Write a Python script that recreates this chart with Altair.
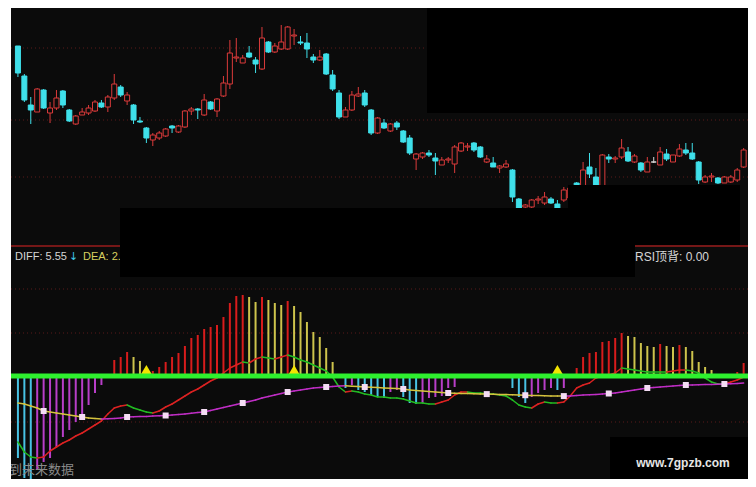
import altair as alt
import pandas as pd

# ---------------- data ----------------
OPEN = [17.70, 16.20, 14.75, 14.40, 15.50, 14.35, 14.60, 15.45, 14.50, 13.80,
        14.25, 14.35, 14.45, 14.85, 14.65, 15.10, 15.65, 14.95, 14.75, 13.95,
        13.60, 13.00, 13.10, 13.20, 13.70, 13.40, 13.65, 14.45, 14.55, 14.25,
        14.90, 14.45, 15.20, 15.80, 17.10, 16.85, 17.35, 17.00, 16.55, 17.90,
        17.40, 17.55, 17.55, 18.20, 17.90, 17.85, 17.15, 17.00, 17.30, 16.25,
        15.35, 14.15, 14.50, 15.20, 15.35, 14.50, 13.35, 13.85, 13.45, 13.85,
        13.45, 13.10, 12.05, 12.15, 12.35, 12.10, 11.75, 12.00, 11.80, 12.45,
        12.65, 12.85, 12.65, 11.90, 11.85, 11.60, 11.65, 11.50, 10.05, 9.65,
        9.65, 10.00, 9.85, 10.05, 9.80, 10.00, 10.10, 10.85, 10.50, 11.65,
        11.15, 10.25, 12.15, 12.05, 12.15, 12.40, 11.90, 11.85, 11.40, 11.90,
        11.75, 12.30, 11.90, 12.20, 12.50, 12.35, 11.90, 10.90, 11.15, 11.10,
        10.85, 10.90, 11.00, 11.65]
HIGH = [17.70, 16.30, 15.15, 15.60, 15.55, 14.90, 15.50, 15.50, 14.55, 14.25,
        14.60, 14.75, 15.00, 15.00, 15.25, 16.30, 15.75, 15.40, 14.80, 14.15,
        13.65, 13.35, 13.45, 13.60, 13.75, 13.75, 14.50, 14.65, 14.60, 15.30,
        14.95, 15.10, 16.20, 18.00, 18.10, 17.25, 17.70, 17.15, 18.65, 17.95,
        17.85, 18.75, 18.70, 18.55, 18.20, 18.35, 17.30, 17.50, 17.35, 16.50,
        15.50, 14.65, 15.45, 15.65, 15.50, 14.55, 14.15, 14.05, 13.85, 13.95,
        13.50, 13.25, 12.35, 12.40, 12.50, 12.35, 12.15, 12.15, 12.75, 12.90,
        12.85, 12.90, 12.70, 12.25, 12.15, 11.75, 12.00, 11.55, 10.10, 9.80,
        10.05, 10.20, 10.40, 10.15, 10.00, 10.65, 10.70, 10.90, 11.90, 12.35,
        11.60, 12.30, 12.30, 12.20, 13.05, 12.65, 12.30, 11.90, 12.15, 12.15,
        12.65, 12.55, 12.25, 12.80, 12.85, 12.85, 11.95, 11.25, 11.35, 11.15,
        11.20, 11.25, 11.60, 12.60]
LOW = [16.15, 14.90, 13.80, 14.40, 14.55, 13.85, 14.50, 14.60, 13.90, 13.75,
       14.25, 14.25, 14.40, 14.60, 14.40, 15.00, 15.15, 14.75, 13.80, 13.85,
       12.85, 12.70, 13.00, 13.15, 13.35, 13.35, 13.60, 14.25, 14.05, 14.20,
       14.50, 14.15, 15.15, 15.55, 16.90, 16.85, 17.10, 16.35, 16.50, 17.35,
       17.35, 17.50, 17.50, 17.75, 17.75, 17.10, 16.85, 16.95, 16.25, 15.45,
       14.05, 14.15, 14.45, 15.15, 14.65, 13.25, 13.30, 13.55, 13.40, 13.50,
       12.85, 12.25, 11.50, 12.05, 12.15, 11.25, 11.75, 11.85, 11.35, 12.40,
       12.45, 12.40, 12.10, 11.85, 11.65, 11.35, 11.60, 9.90, 9.55, 9.60,
       9.60, 9.80, 9.75, 9.80, 9.55, 9.90, 10.00, 10.40, 10.25, 11.10,
       10.25, 10.10, 11.85, 11.85, 12.05, 11.90, 11.85, 11.40, 11.40, 11.85,
       11.75, 11.95, 11.90, 12.15, 12.25, 12.00, 10.80, 10.85, 10.90, 10.80,
       10.85, 10.85, 10.90, 11.60]
CLOSE = [16.35, 15.00, 14.50, 15.55, 14.60, 14.60, 15.10, 14.75, 13.95, 14.20,
         14.40, 14.60, 14.90, 14.65, 15.15, 15.80, 15.25, 15.25, 14.00, 13.90,
         13.10, 13.25, 13.35, 13.55, 13.60, 13.70, 14.45, 14.55, 14.50, 15.00,
         14.55, 15.05, 15.85, 17.35, 17.15, 17.10, 17.15, 16.80, 18.10, 17.40,
         17.70, 17.90, 18.65, 18.25, 17.85, 17.55, 17.00, 17.15, 16.30, 15.55,
         14.15, 14.50, 15.25, 15.30, 14.75, 13.35, 14.10, 13.60, 13.80, 13.65,
         12.90, 12.35, 12.30, 12.35, 12.25, 11.95, 12.00, 12.05, 12.65, 12.85,
         12.70, 12.50, 12.15, 12.05, 11.65, 11.70, 11.80, 10.15, 9.60, 9.75,
         10.00, 10.05, 10.15, 9.85, 9.60, 10.50, 10.60, 10.50, 11.50, 11.30,
         10.50, 12.25, 12.05, 12.10, 12.60, 11.95, 12.20, 11.50, 11.90, 11.90,
         12.40, 12.05, 12.25, 12.55, 12.35, 12.05, 11.00, 11.15, 11.20, 10.85,
         11.15, 11.15, 11.50, 12.50]

HIST = [-8.2, -10.2, -11.5, -9.4, -8.6, -8.2, -7.1, -6.1, -5.4, -4.6,
        -3.9, -2.9, -1.7, -0.9, 0.0, 1.6, 1.9, 2.4, 1.9, 1.5,
        0.3, 0.5, 0.9, 1.4, 1.9, 2.3, 3.0, 3.8, 4.1, 4.7,
        4.9, 5.1, 5.9, 7.3, 8.0, 8.1, 7.9, 7.4, 7.9, 7.6,
        7.3, 7.1, 7.5, 7.0, 6.4, 5.4, 4.4, 3.9, 2.8, 1.4,
        0.0, -1.2, -0.9, -1.4, -1.6, -1.9, -2.1, -2.2, -1.6, -1.4,
        -2.1, -2.7, -2.8, -2.7, -2.2, -2.1, -2.0, -1.2, -1.1, 0.0,
        0.0, 0.0, 0.0, 0.0, 0.0, 0.0, 0.0, -1.2, -2.1, -2.7,
        -2.1, -1.7, -1.4, -1.2, -1.4, -1.2, 0.0, 0.8, 1.9, 2.3,
        2.4, 3.4, 3.5, 3.8, 4.3, 4.0, 3.9, 3.3, 3.0, 2.9,
        3.2, 3.0, 2.9, 3.1, 2.9, 2.5, 1.4, 0.9, 0.6, 0.0,
        0.0, 0.0, 0.4, 1.3]
DIFF = [-6.6, -7.6, -8.1, -8.2, -8.1, -7.5, -7.1, -6.7, -6.4, -6.0,
        -5.7, -5.3, -4.9, -4.5, -3.8, -3.2, -3.0, -2.9, -3.2, -3.4,
        -3.6, -3.7, -3.5, -3.1, -2.8, -2.4, -2.0, -1.6, -1.3, -0.9,
        -0.5, -0.2, 0.3, 0.8, 1.1, 1.4, 1.3, 1.7, 1.9, 1.8,
        1.7, 1.9, 2.1, 1.9, 1.6, 1.4, 1.1, 0.8, 0.5, -0.1,
        -1.1, -1.6, -1.5, -1.6, -1.8, -1.9, -2.1, -2.1, -2.2, -2.2,
        -2.3, -2.5, -2.7, -2.7, -2.8, -2.8, -2.6, -2.4, -1.9, -1.6,
        -1.6, -1.7, -1.7, -1.8, -1.8, -1.9, -2.0, -2.4, -2.9, -3.1,
        -3.2, -2.8, -2.6, -2.7, -2.7, -2.6, -2.0, -1.2, -0.9, -0.7,
        -0.2, 0.0, 0.1, 0.3, 0.8, 0.7, 0.6, 0.5, 0.4, 0.4,
        0.4, 0.4, 0.5, 0.6, 0.6, 0.5, 0.3, -0.2, -0.6, -0.8,
        -0.8, -0.6, -0.4, -0.1]
DEA = [-2.7, -2.8, -3.0, -3.2, -3.5, -3.6, -3.7, -3.8, -3.9, -4.0,
       -4.1, -4.2, -4.25, -4.3, -4.28, -4.25, -4.2, -4.1, -4.08, -4.06,
       -4.04, -4.0, -3.98, -3.95, -3.9, -3.85, -3.8, -3.72, -3.65, -3.6,
       -3.45, -3.3, -3.15, -3.0, -2.85, -2.7, -2.55, -2.4, -2.2, -2.05,
       -1.9, -1.75, -1.6, -1.5, -1.4, -1.3, -1.2, -1.15, -1.1, -1.05,
       -1.0, -0.98, -1.02, -1.05, -1.1, -1.12, -1.15, -1.2, -1.22, -1.25,
       -1.3, -1.4, -1.45, -1.5, -1.55, -1.6, -1.65, -1.7, -1.72, -1.75,
       -1.76, -1.78, -1.8, -1.81, -1.83, -1.85, -1.86, -1.88, -1.9, -1.92,
       -1.94, -1.96, -1.98, -1.99, -2.0, -2.01, -2.0, -1.95, -1.9, -1.88,
       -1.85, -1.8, -1.75, -1.7, -1.6, -1.5, -1.4, -1.3, -1.2, -1.15,
       -1.1, -1.05, -1.0, -0.95, -0.9, -0.89, -0.88, -0.86, -0.85, -0.83,
       -0.8, -0.78, -0.76, -0.7]
DEA_MARKS = [4, 10, 17, 23, 29, 35, 42, 48, 54, 60, 67, 73, 79, 85, 92, 98, 104, 110]
SIGNALS = [20, 43, 84]
PRICE_GRID = [17.6, 14.0, 11.15]
MACD_GRID = [8.7, 4.3, -4.6]

LABEL_DIFF = "DIFF: 5.55"
LABEL_DEA = "DEA: 2."
LABEL_RSI = "RSI顶背: 0.00"
LABEL_FUTURE = "到未来数据"
WATERMARK = "www.7gpzb.com"

# ---------------- styling ----------------
W, H = 740, 471
BG = "#0b0b0b"
C_UP = "#dc3b3b"
C_DN = "#3fe0ea"
C_FLAT = "#d8d8d8"
H_RED = "#d81c1c"
H_YEL = "#cdc34c"
H_CYAN = "#48c2e4"
H_MAG = "#b83ec8"
L_RED = "#dd2222"
L_GRN = "#22bb22"
D_YEL = "#d4c23e"
D_MAG = "#c02ec6"
GRID = "#5a1a1a"

xscale = alt.Scale(domain=[-0.768, 112.90], nice=False, zero=False)
pscale = alt.Scale(domain=[-3.95, 19.6], nice=False, zero=False)
mscale = alt.Scale(domain=[-10.3, 36.8], nice=False, zero=False)

n = len(OPEN)
idx = list(range(n))

cd = pd.DataFrame({"i": idx, "open": OPEN, "high": HIGH, "low": LOW, "close": CLOSE})
cd["top"] = cd[["open", "close"]].max(axis=1)
cd["bot"] = cd[["open", "close"]].min(axis=1)
cd["col"] = [C_UP if c > o else (C_DN if c < o else C_FLAT) for o, c in zip(OPEN, CLOSE)]
cd["fill"] = [BG if c > o else col for o, c, col in zip(OPEN, CLOSE, cd["col"])]

hc = []
prev = 0.0
for h in HIST:
    if h >= 0:
        hc.append(H_RED if h >= prev else H_YEL)
    else:
        hc.append(H_CYAN if h <= prev else H_MAG)
    prev = h
hd = pd.DataFrame({"i": idx, "h": HIST, "z": [0.0] * n, "c": hc})
hd = hd[hd["h"] != 0]


def segs(vals, up, down):
    rows = []
    last = up
    for k in range(len(vals) - 1):
        a, b = vals[k], vals[k + 1]
        c = up if b > a else (down if b < a else last)
        last = c
        rows.append({"i": k, "i2": k + 1, "v": a, "v2": b, "c": c})
    return pd.DataFrame(rows)


diff_df = segs(DIFF, L_RED, L_GRN)
dea_df = segs(DEA, D_MAG, D_YEL)
marks_df = pd.DataFrame({"i": DEA_MARKS, "v": [DEA[k] for k in DEA_MARKS]})
sig_df = pd.DataFrame({"i": SIGNALS, "v": [0.5] * len(SIGNALS)})
ONE = pd.DataFrame({"a": [0]})


def X(f):
    return alt.X(f, type="quantitative", scale=xscale, axis=None)


def PY(f):
    return alt.Y(f, type="quantitative", scale=pscale, axis=None)


def MY(f):
    return alt.Y(f, type="quantitative", scale=mscale, axis=None)


def box(x0, x1, y0, y1, color):
    return alt.Chart(ONE).mark_rect(color=color).encode(
        x=alt.value(x0), x2=alt.value(x1), y=alt.value(y0), y2=alt.value(y1))


def hline(y, x0, x1, color, width=1.0):
    return alt.Chart(ONE).mark_rule(color=color, strokeWidth=width).encode(
        x=alt.value(x0), x2=alt.value(x1), y=alt.value(y))


def label(txt, x, y, color, size=12, font="Liberation Sans", weight="normal", align="left"):
    return alt.Chart(ONE).mark_text(
        text=txt, color=color, fontSize=size, font=font, fontWeight=weight,
        align=align, baseline="middle").encode(x=alt.value(x), y=alt.value(y))


layers = []
# grid lines
layers.append(alt.Chart(pd.DataFrame({"p": PRICE_GRID})).mark_rule(
    color=GRID, strokeDash=[1, 3], strokeWidth=1).encode(y=PY("p")))
layers.append(alt.Chart(pd.DataFrame({"m": MACD_GRID})).mark_rule(
    color=GRID, strokeDash=[1, 3], strokeWidth=1).encode(y=MY("m")))
layers.append(hline(238, 3, 740, "#9a1c1c", 1.5))

# candles
layers.append(alt.Chart(cd).mark_rule(strokeWidth=1).encode(
    x=X("i"), y=PY("low"), y2=alt.Y2("high"), color=alt.Color("col:N", scale=None)))
layers.append(alt.Chart(cd).mark_bar(size=5, strokeWidth=1).encode(
    x=X("i"), y=PY("bot"), y2=alt.Y2("top"),
    fill=alt.Fill("fill:N", scale=None), stroke=alt.Stroke("col:N", scale=None)))

# MACD histogram
layers.append(alt.Chart(hd).mark_rule(strokeWidth=2).encode(
    x=X("i"), y=MY("z"), y2=alt.Y2("h"), color=alt.Color("c:N", scale=None)))
# DIFF / DEA
layers.append(alt.Chart(diff_df).mark_rule(strokeWidth=1.5, strokeCap="round").encode(
    x=X("i"), x2=alt.X2("i2"), y=MY("v"), y2=alt.Y2("v2"), color=alt.Color("c:N", scale=None)))
layers.append(alt.Chart(dea_df).mark_rule(strokeWidth=1.5, strokeCap="round").encode(
    x=X("i"), x2=alt.X2("i2"), y=MY("v"), y2=alt.Y2("v2"), color=alt.Color("c:N", scale=None)))
layers.append(alt.Chart(marks_df).mark_square(size=36, color="#f4dcf4", opacity=1).encode(
    x=X("i"), y=MY("v")))
# signal triangles + zero line
layers.append(alt.Chart(sig_df).mark_point(shape="triangle-up", filled=True, size=200,
                                           color="#f2e400", opacity=1).encode(x=X("i"), y=MY("v")))
layers.append(alt.Chart(pd.DataFrame({"z": [0.0]})).mark_rule(
    color="#2ef02e", strokeWidth=5).encode(y=MY("z")))

# texts
layers.append(label(LABEL_DIFF, 7, 249, "#d6d6d6", size=11))
layers.append(label("↓", 61, 249, "#40c8e8", size=11, font="DejaVu Sans"))
layers.append(label(LABEL_DEA, 75, 249, "#d8d060", size=11))
layers.append(label(LABEL_RSI, 627, 249, "#d6d6d6", size=12, font="Liberation Sans, Noto Sans CJK SC"))
layers.append(label(LABEL_FUTURE, 1, 462, "#8a8a8a", size=13, font="Noto Sans CJK SC"))

# covering boxes and edges
layers.append(box(419, 740, 0, 105, "#000000"))
layers.append(box(112, 627, 200, 269, "#000000"))
layers.append(box(560, 732, 177, 237, "#000000"))
layers.append(box(602, 740, 429, 471, "#000000"))
layers.append(box(0, 3, 0, 471, "#ffffff"))
layers.append(label(WATERMARK, 675, 455, "#e6e6e6", size=12, weight="bold", align="center"))

chart = alt.layer(*layers).resolve_scale(y="independent").properties(
    width=W, height=H, background=BG, padding=0,
    autosize=alt.AutoSizeParams(type="none"),
).configure_view(strokeWidth=0)

chart.save("out.html", embed_options={"renderer": "svg", "actions": False})
